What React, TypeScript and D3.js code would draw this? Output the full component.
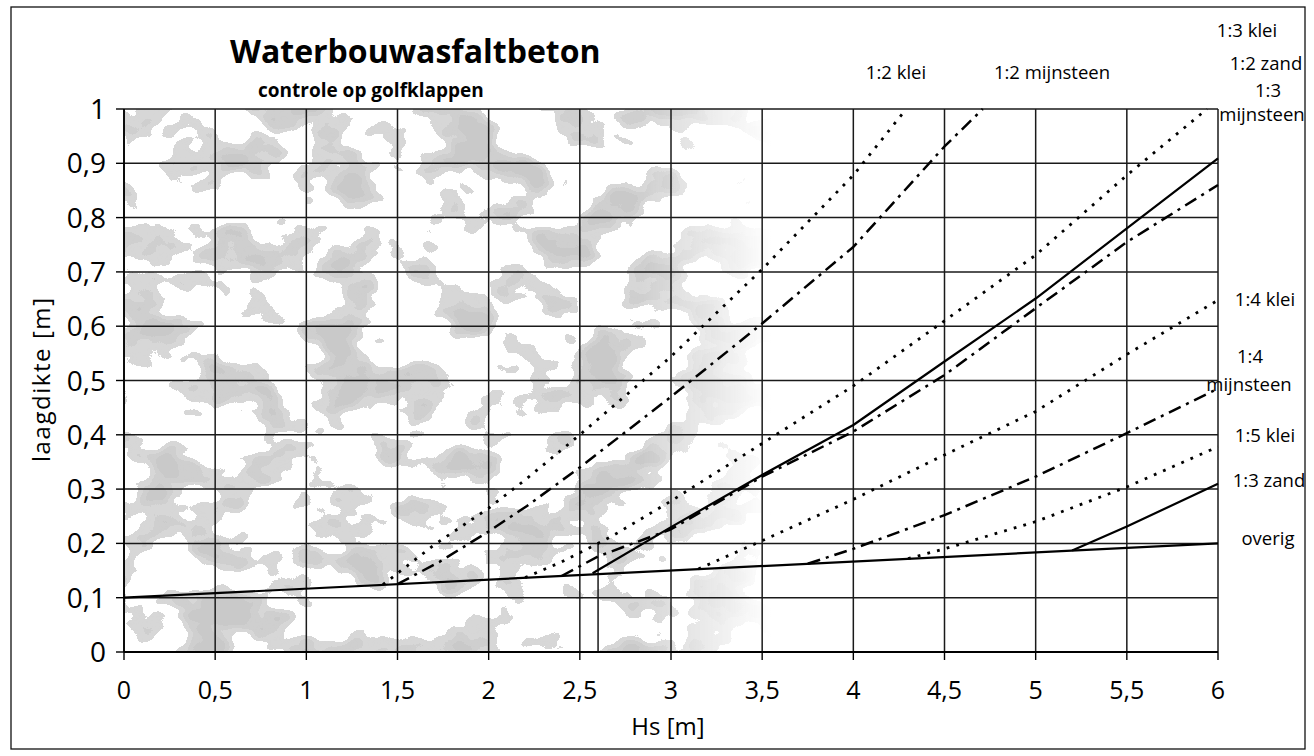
import React from 'react';
import * as d3 from 'd3';

// ---------- data ----------
const xTickValues = [0, 0.5, 1, 1.5, 2, 2.5, 3, 3.5, 4, 4.5, 5, 5.5, 6];
const yTickValues = [0, 0.1, 0.2, 0.3, 0.4, 0.5, 0.6, 0.7, 0.8, 0.9, 1];

const overig: [number, number][] = [[0, 0.1], [6, 0.2]];
const klei12: [number, number][] = [[1.42, 0.124], [1.7, 0.197], [2.0, 0.265], [2.2, 0.317], [2.5, 0.4], [3.0, 0.544], [3.5, 0.705], [4.0, 0.878], [4.29, 1.0]];
const mijnsteen12: [number, number][] = [[1.5, 0.125], [1.73, 0.166], [2.0, 0.222], [2.21, 0.269], [2.5, 0.34], [3.0, 0.47], [3.5, 0.605], [4.0, 0.746], [4.5, 0.931], [4.71, 1.0]];
const klei13: [number, number][] = [[2.2, 0.137], [2.4, 0.166], [2.67, 0.212], [3.0, 0.278], [3.5, 0.384], [4.0, 0.49], [4.5, 0.61], [5.0, 0.731], [5.5, 0.878], [5.94, 1.0]];
const zand12: [number, number][] = [[2.57, 0.145], [3.0, 0.23], [3.5, 0.326], [4.0, 0.418], [4.5, 0.535], [5.0, 0.651], [5.5, 0.78], [6.0, 0.909]];
const mijnsteen13: [number, number][] = [[2.4, 0.14], [2.6, 0.176], [3.0, 0.226], [3.5, 0.323], [4.0, 0.406], [4.5, 0.51], [5.0, 0.633], [5.5, 0.755], [6.0, 0.86]];
const klei14: [number, number][] = [[3.15, 0.153], [3.5, 0.205], [4.0, 0.281], [4.5, 0.363], [5.0, 0.443], [5.5, 0.548], [6.0, 0.648]];
const mijnsteen14: [number, number][] = [[3.75, 0.1625], [4.0, 0.19], [4.5, 0.252], [5.0, 0.323], [5.5, 0.403], [6.0, 0.485]];
const klei15: [number, number][] = [[4.3, 0.172], [4.5, 0.19], [5.0, 0.24], [5.5, 0.304], [6.0, 0.378]];
const zand13: [number, number][] = [[5.2, 0.187], [5.5, 0.231], [6.0, 0.31]];
const markerLine: [number, number][] = [[2.6, 0], [2.6, 0.2]];

const seriesNames = ['1:2 klei', '1:2 mijnsteen', '1:3 klei', '1:2 zand', '1:3 mijnsteen', '1:4 klei', '1:4 mijnsteen', '1:5 klei', '1:3 zand', 'overig'];

const titleText = 'Waterbouwasfaltbeton';
const subtitleText = 'controle op golfklappen';
const xAxisTitle = 'Hs [m]';
const yAxisTitle = 'laagdikte [m]';

// ---------- chart ----------
const W = 1314;
const H = 756;
const FONT = "'Open Sans', 'DejaVu Sans', sans-serif";

export default function App() {
  const x = d3.scaleLinear().domain([0, 6]).range([124, 1218]);
  const y = d3.scaleLinear().domain([0, 1]).range([652, 109]);
  const line = d3.line<[number, number]>().x(d => x(d[0])).y(d => y(d[1]));
  const fmt = (v: number) => d3.format('~g')(+v.toFixed(2)).replace('.', ',');

  const styles: Record<string, { dash?: string; w: number }> = {
    dotted: { dash: '2.8 7.2', w: 2.8 },
    dashdot: { dash: '13 6 3 6', w: 2.5 },
    solid: { w: 2.2 },
  };

  const series: { data: [number, number][]; kind: string }[] = [
    { data: klei12, kind: 'dotted' },
    { data: mijnsteen12, kind: 'dashdot' },
    { data: klei13, kind: 'dotted' },
    { data: zand12, kind: 'solid' },
    { data: mijnsteen13, kind: 'dashdot' },
    { data: klei14, kind: 'dotted' },
    { data: mijnsteen14, kind: 'dashdot' },
    { data: klei15, kind: 'dotted' },
    { data: zand13, kind: 'solid' },
    { data: overig, kind: 'solid' },
  ];

  const split = (s: string) => s.split(' ');
  // label layout (positions of the right-hand / top series names)
  const labelLayout: { t: string; x: number; y: number }[] = [
    { t: seriesNames[0], x: 896, y: 79 },
    { t: seriesNames[1], x: 1052, y: 79 },
    { t: seriesNames[2], x: 1247, y: 37 },
    { t: seriesNames[3], x: 1266, y: 70 },
    { t: split(seriesNames[4])[0], x: 1268, y: 97 },
    { t: split(seriesNames[4])[1], x: 1262, y: 121 },
    { t: seriesNames[5], x: 1265, y: 306 },
    { t: split(seriesNames[6])[0], x: 1250, y: 363 },
    { t: split(seriesNames[6])[1], x: 1249, y: 391 },
    { t: seriesNames[7], x: 1265, y: 442 },
    { t: seriesNames[8], x: 1269, y: 487 },
    { t: seriesNames[9], x: 1268, y: 545 },
  ];

  const x0 = x(0), x1 = x(6), y0 = y(0), y1 = y(1);

  return (
    <svg width={W} height={H} style={{ position: 'absolute', left: 0, top: 0, background: '#fff' }} fontFamily={FONT}>
      <defs>
        <filter id="blot" x="0" y="0" width="100%" height="100%" filterUnits="objectBoundingBox">
          <feTurbulence type="fractalNoise" baseFrequency="0.016 0.022" numOctaves={3} seed={7} result="n" />
          <feColorMatrix in="n" type="matrix" values="0 0 0 0 0.5  0 0 0 0 0.5  0 0 0 0 0.5  2.4 0 0 0 -0.85" result="a" />
          <feComponentTransfer in="a">
            <feFuncA type="discrete" tableValues="0 0 0.6 0.72 0.8" />
          </feComponentTransfer>
        </filter>
        <linearGradient id="fade" x1="0" x2="1" y1="0" y2="0">
          <stop offset="0" stopColor="#fff" stopOpacity={1} />
          <stop offset="0.8" stopColor="#fff" stopOpacity={1} />
          <stop offset="1" stopColor="#fff" stopOpacity={0} />
        </linearGradient>
        <mask id="fadeMask">
          <rect x={x0} y={y1} width={x(3.55) - x0} height={y0 - y1} fill="url(#fade)" />
        </mask>
      </defs>
      <rect x={0} y={0} width={W} height={H} fill="#fff" />
      <rect x={11} y={7} width={1294} height={742} fill="none" stroke="#111" strokeWidth={1.3} />

      {/* scanned background texture (decorative) */}
      <g mask="url(#fadeMask)">
        <rect x={x0} y={y1} width={x(3.55) - x0} height={y0 - y1} fill="#888" filter="url(#blot)" />
      </g>

      {/* grid */}
      {xTickValues.map(v => (
        <line key={'gx' + v} x1={x(v)} x2={x(v)} y1={y0} y2={y1} stroke="#1a1a1a" strokeWidth={1.5} />
      ))}
      {yTickValues.map(v => (
        <line key={'gy' + v} x1={x0} x2={x1} y1={y(v)} y2={y(v)} stroke="#1a1a1a" strokeWidth={1.5} />
      ))}
      <path d={line(markerLine) || ''} stroke="#1a1a1a" strokeWidth={1.5} fill="none" />

      {/* axes */}
      <line x1={x0} x2={x0} y1={y0} y2={y1} stroke="#000" strokeWidth={1.7} />
      <line x1={x0} x2={x1} y1={y0} y2={y0} stroke="#000" strokeWidth={2} />
      {yTickValues.map(v => (
        <g key={'ty' + v}>
          <line x1={x0 - 8} x2={x0} y1={y(v)} y2={y(v)} stroke="#000" strokeWidth={1.4} />
          <text x={106} y={y(v) + 10} textAnchor="end" fontSize={28} fill="#000">{fmt(v)}</text>
        </g>
      ))}
      {xTickValues.map(v => (
        <g key={'tx' + v}>
          <line x1={x(v)} x2={x(v)} y1={y0} y2={y0 + 8} stroke="#000" strokeWidth={1.4} />
          <text x={x(v)} y={699} textAnchor="middle" fontSize={25} fill="#000">{fmt(v)}</text>
        </g>
      ))}

      {/* series */}
      {series.map((s, i) => {
        const st = styles[s.kind];
        return (
          <path key={'s' + i} d={line(s.data) || ''} fill="none" stroke="#000"
            strokeWidth={st.w} strokeDasharray={st.dash} strokeLinecap="butt" strokeLinejoin="round" />
        );
      })}

      {/* series labels */}
      {labelLayout.map((l, i) => (
        <text key={'l' + i} x={l.x} y={l.y} textAnchor="middle" fontSize={18.5} fill="#000">{l.t}</text>
      ))}

      {/* titles */}
      <text x={230} y={63} fontSize={32} fontWeight="bold" fill="#000">{titleText}</text>
      <text x={258} y={97} fontSize={19} fontWeight="bold" fill="#000">{subtitleText}</text>
      <text x={668} y={735} textAnchor="middle" fontSize={24} fill="#000">{xAxisTitle}</text>
      <text transform={`translate(50,${380}) rotate(-90)`} textAnchor="middle" fontSize={24}
        textLength={164} lengthAdjust="spacing" fill="#000">{yAxisTitle}</text>
    </svg>
  );
}
